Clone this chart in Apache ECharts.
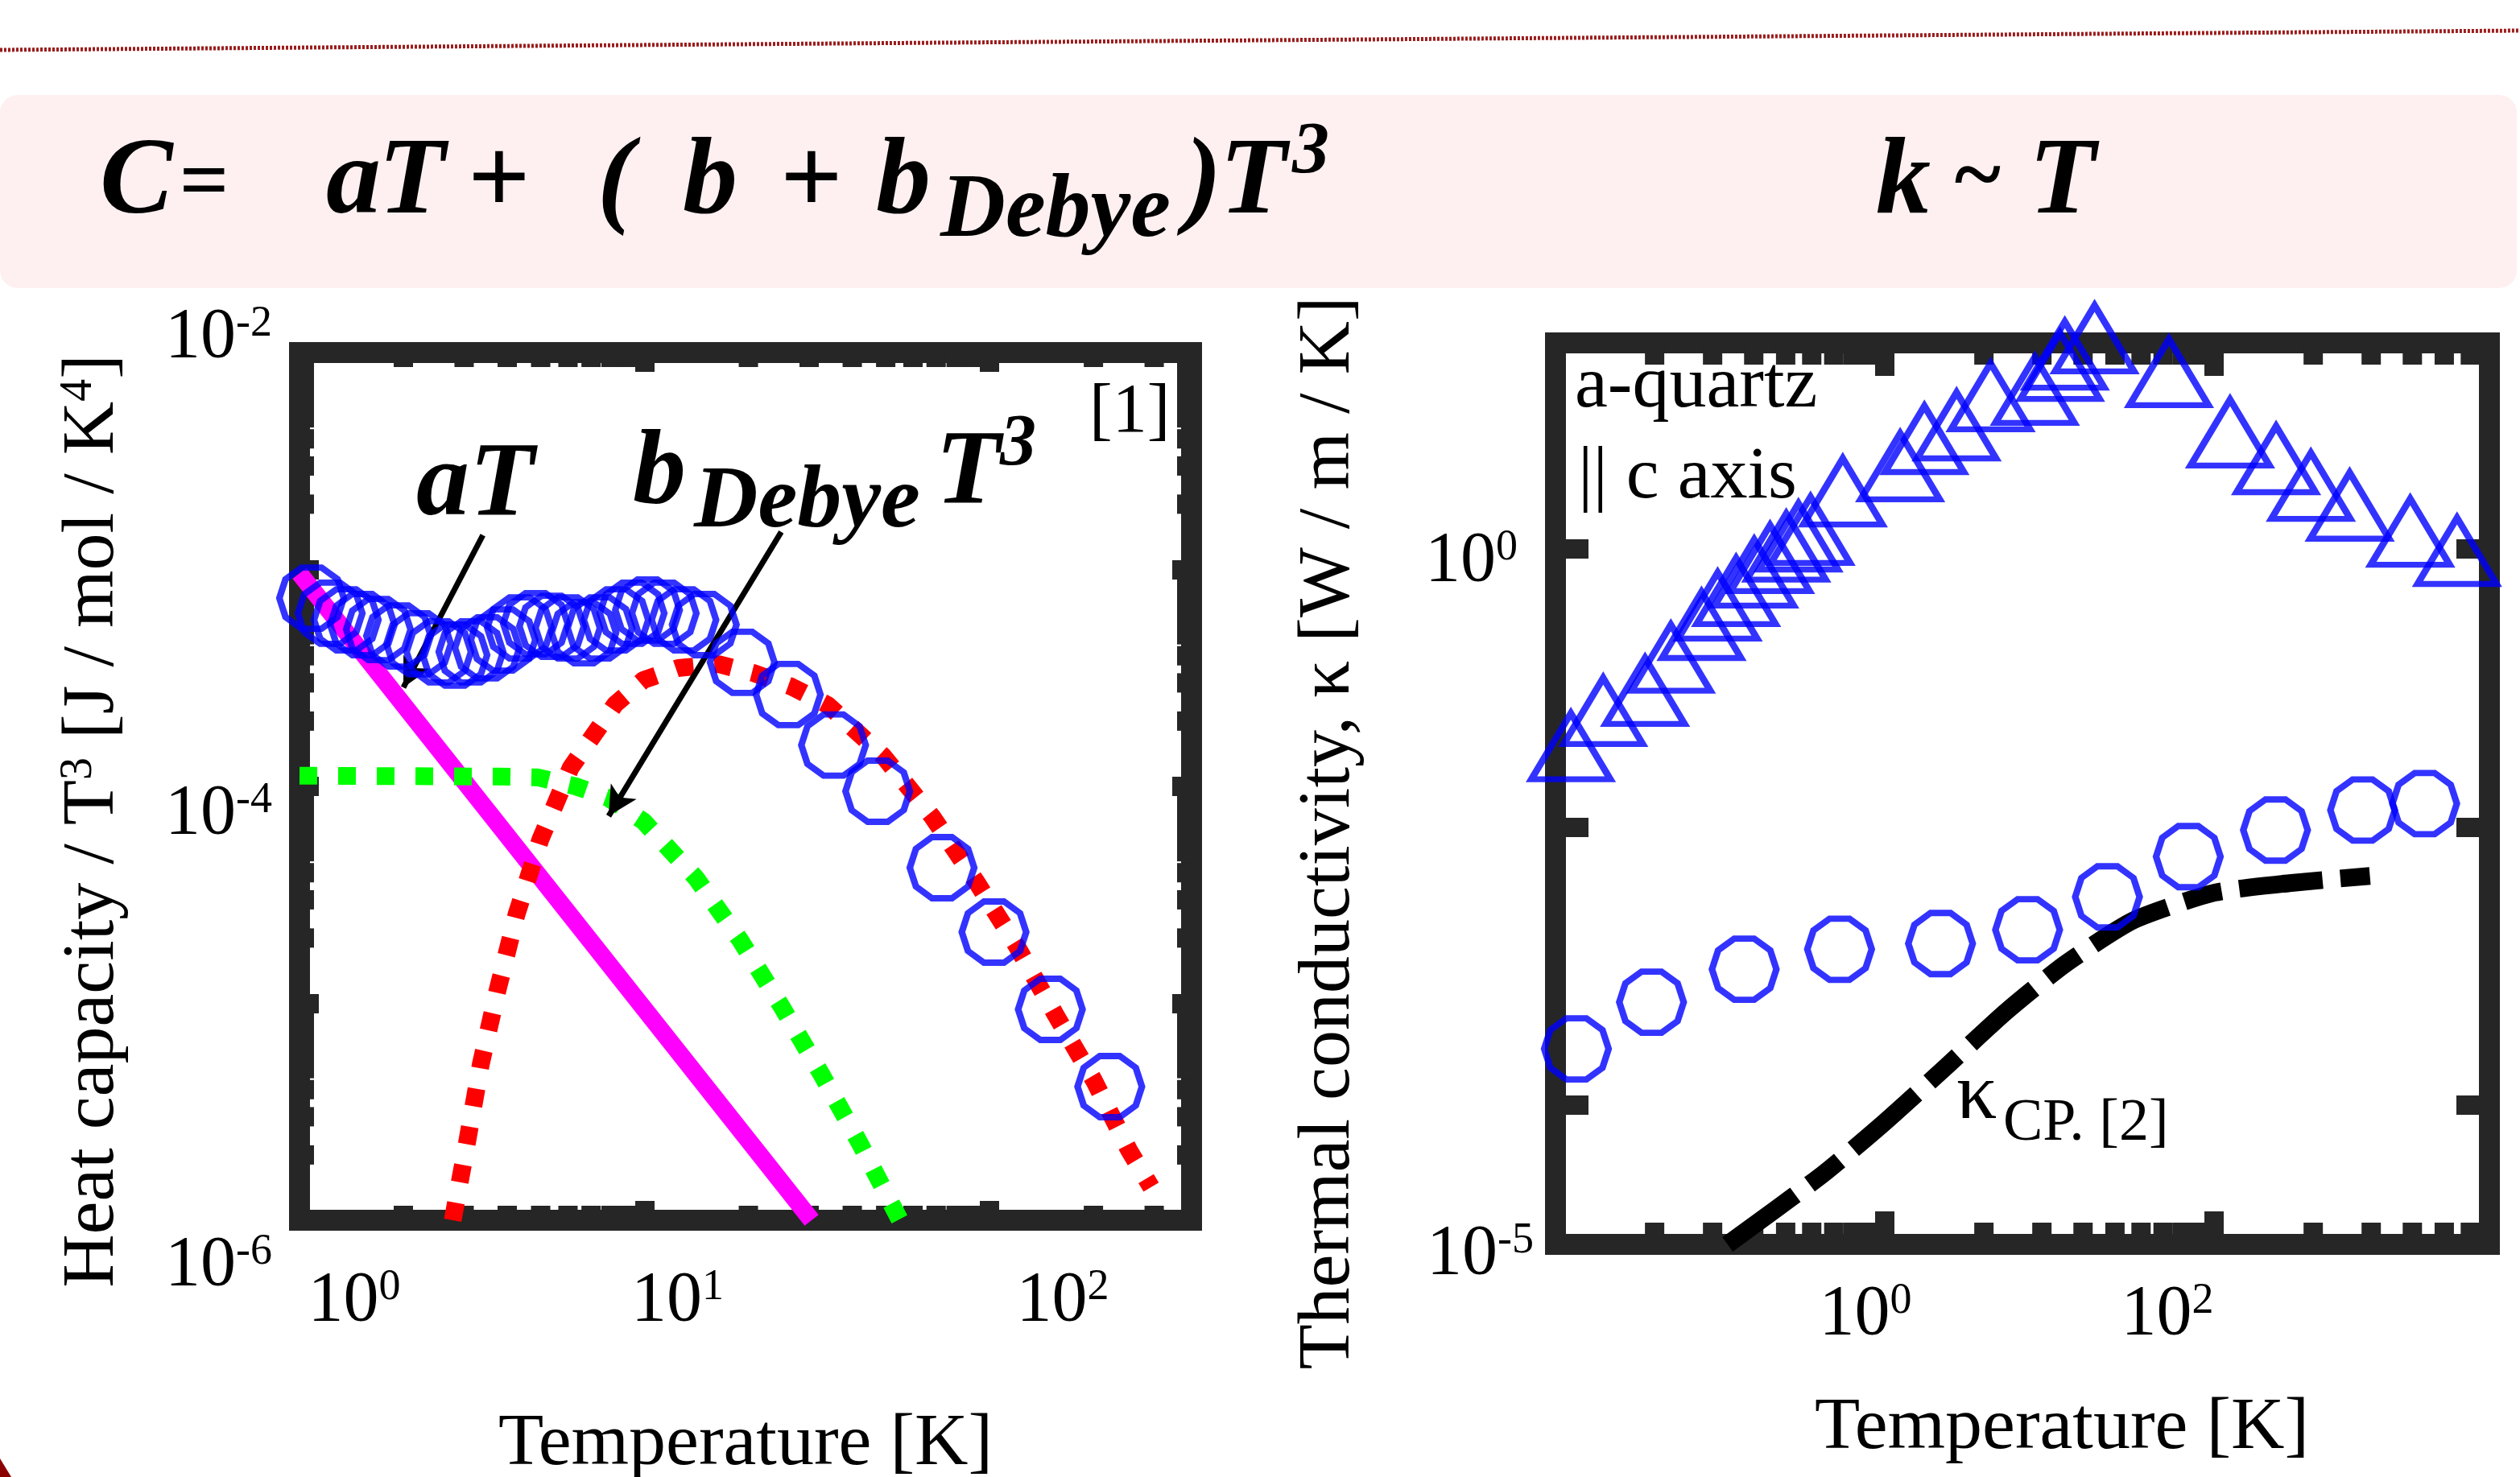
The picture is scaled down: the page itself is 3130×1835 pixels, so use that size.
<!DOCTYPE html>
<html>
<head>
<meta charset="utf-8">
<script src="https://cdn.jsdelivr.net/npm/echarts@6.0.0/dist/echarts.min.js"></script>
<style>
html,body{margin:0;padding:0;background:#fff;}
#chart{width:3130px;height:1835px;}
</style>
</head>
<body>
<div id="chart"></div>
<script>
// ================= DATA =================
// Left panel: heat capacity / T^3 of the glass (blue circles)
const heatT = [1.084, 1.227, 1.366, 1.521, 1.693, 1.937, 2.215, 2.533, 2.821, 3.14, 3.50, 3.89, 4.34, 4.83, 5.38, 5.99, 6.67, 7.42, 8.27, 9.20, 10.2, 11.4, 13.0, 14.9, 19.2, 26.1, 35.3, 47.4, 72.8, 103, 150, 223];
const heatC = [7.38e-4, 6.28e-4, 5.86e-4, 5.57e-4, 5.29e-4, 4.94e-4, 4.54e-4, 4.17e-4, 4.03e-4, 4.17e-4, 4.35e-4, 4.73e-4, 5.38e-4, 5.62e-4, 5.47e-4, 5.38e-4, 5.11e-4, 5.38e-4, 5.86e-4, 6.28e-4, 6.50e-4, 6.28e-4, 5.86e-4, 5.57e-4, 3.73e-4, 2.65e-4, 1.55e-4, 9.50e-5, 4.22e-5, 2.13e-5, 9.38e-6, 4.13e-6];
// Red dotted curve
const fitT = [2.78, 3.06, 3.35, 3.75, 4.25, 4.99, 6.11, 8.22, 9.92, 12.5, 16.4, 20.7, 26.7, 34.0, 49.2, 68.3, 91.8, 120, 155, 201, 253, 294];
const fitC = [1.0e-6, 2.29e-6, 5.20e-6, 1.15e-5, 2.55e-5, 5.69e-5, 1.22e-4, 2.39e-4, 3.09e-4, 3.51e-4, 3.66e-4, 3.33e-4, 2.88e-4, 2.37e-4, 1.38e-4, 7.23e-5, 3.61e-5, 1.83e-5, 8.91e-6, 4.39e-6, 2.12e-6, 1.42e-6];
// Green dotted curve (b_Debye T^3)
const debyeT = [1.0, 3.79, 4.91, 6.32, 7.83, 9.92, 14.1, 19.0, 25.0, 32.5, 41.9, 55.0];
const debyeC = [1.12e-4, 1.11e-4, 1.10e-4, 1.00e-4, 8.87e-5, 6.92e-5, 3.78e-5, 1.94e-5, 9.62e-6, 4.73e-6, 2.29e-6, 1.0e-6];
// Magenta line (aT)
const linearT = [1.0, 30.5];
const linearC = [9.6e-4, 1.0e-6];

// Right panel: thermal conductivity
const quartzT = [0.0124, 0.0195, 0.0350, 0.0502, 0.0771, 0.0966, 0.125, 0.161, 0.201, 0.252, 0.299, 0.354, 0.556, 1.24, 1.74, 2.73, 4.39, 8.16, 11.6, 12.4, 18.8, 53.2, 125, 238, 387, 666, 1553, 2988];
const quartzK = [0.0379, 0.0680, 0.0948, 0.164, 0.282, 0.389, 0.494, 0.671, 0.853, 1.03, 1.22, 1.36, 2.57, 3.89, 6.11, 7.66, 12.4, 13.8, 20.5, 24.7, 32.3, 18.5, 6.80, 4.38, 2.82, 2.03, 1.32, 0.96];
const glassT = [0.0134, 0.0383, 0.140, 0.531, 2.18, 7.37, 22.5, 69.7, 236, 798, 1900];
const glassK = [2.54e-4, 5.50e-4, 9.48e-4, 1.32e-3, 1.45e-3, 1.82e-3, 3.14e-3, 6.11e-3, 9.48e-3, 1.32e-2, 1.47e-2];
const cpT = [0.111, 0.419, 1.0, 2.39, 5.44, 12.4, 32.4, 100, 286, 884];
const cpK = [1.0e-5, 3.18e-5, 7.56e-5, 1.92e-4, 4.69e-4, 1.03e-3, 2.13e-3, 3.36e-3, 3.94e-3, 4.44e-3];

// Tick labels (powers of ten that carry a label)
const leftXLabels = [0, 1, 2];
const leftYLabels = [-2, -4, -6];
const rightXLabels = [0, 2];
const rightYLabels = [0, -5];

// Minor tick values
const leftXMinor = [2, 3, 4, 5, 6, 7, 8, 9, 20, 30, 40, 50, 60, 70, 80, 90, 200, 300];
const leftYMinor = [2e-6, 3e-6, 4e-6, 5e-6, 6e-6, 7e-6, 8e-6, 9e-6, 2e-5, 3e-5, 4e-5, 5e-5, 6e-5, 7e-5, 8e-5, 9e-5, 2e-4, 3e-4, 4e-4, 5e-4, 6e-4, 7e-4, 8e-4, 9e-4, 2e-3, 3e-3, 4e-3, 5e-3, 6e-3, 7e-3, 8e-3, 9e-3];
const rightXMinor = [0.04, 0.09, 0.16, 0.25, 0.36, 0.49, 0.64, 0.81, 4, 9, 16, 25, 36, 49, 64, 81, 400, 900, 1600, 2500, 3600];

// Annotation arrows (data coordinates: start, tip)
const arrowAT = [[3.40, 1.44e-3], [2.0, 2.86e-4]];
const arrowDebye = [[24.9, 1.49e-3], [7.87, 7.3e-5]];

// ================= STYLE / LAYOUT =================
const F = 'Liberation Serif';
const FRAME = '#262626';
const BLUE = '#0000FF';
const zip = (a, b) => a.map((v, i) => [v, b[i]]);
const decagon = 'path://M100,50L90.45,79.39L65.45,97.55L34.55,97.55L9.55,79.39L0,50L9.55,20.61L34.55,2.45L65.45,2.45L90.45,20.61Z';

// label offsets: dx shifts horizontally, dy vertically (spacer line), er extra right space
function buildRich(table, fs, sfs) {
  const rich = {};
  Object.keys(table).forEach(k => {
    const t = table[k];
    const dx = t.dx || 0, dy = t.dy || 0, er = t.er || 0;
    const key = k.replace('-', 'm');
    const pl = dx > 0 ? 2 * dx : 0, pr = (dx < 0 ? -2 * dx : 0) + er;
    rich['b' + key] = {fontFamily: F, fontSize: fs, lineHeight: fs, color: '#000', padding: [0, 0, 0, pl]};
    rich['s' + key] = {fontFamily: F, fontSize: sfs, lineHeight: sfs, color: '#000', verticalAlign: 'top', padding: [0, pr, 0, 0]};
    rich['g' + key] = {fontFamily: F, fontSize: 1, lineHeight: Math.max(1, 2 * Math.abs(dy)), color: 'rgba(0,0,0,0)'};
  });
  return rich;
}
function expFormatter(list, table) {
  return function (v) {
    const l = Math.log10(v), e = Math.round(l);
    if (Math.abs(l - e) > 0.01 || list.indexOf(e) < 0) return '';
    const key = String(e).replace('-', 'm');
    const dy = (table[String(e)] && table[String(e)].dy) || 0;
    const main = '{b' + key + '|10}{s' + key + '|' + e + '}';
    if (dy > 0) return '{g' + key + '| }\n' + main;
    if (dy < 0) return main + '\n{g' + key + '| }';
    return main;
  };
}
function tickSeries(xi, yi, vals, anchor, dir, len, w) {
  return {
    type: 'custom', xAxisIndex: xi, yAxisIndex: yi, z: 1, silent: true, clip: false,
    data: vals.map(v => dir === 'x' ? [v, anchor] : [anchor, v]),
    renderItem: function (params, api) {
      const cs = params.coordSys;
      const p = api.coord([api.value(0), api.value(1)]);
      if (dir === 'x') {
        return {type: 'group', children: [
          {type: 'rect', shape: {x: p[0] - w / 2, y: cs.y + cs.height - len, width: w, height: len}, style: {fill: FRAME}},
          {type: 'rect', shape: {x: p[0] - w / 2, y: cs.y, width: w, height: len}, style: {fill: FRAME}}
        ]};
      }
      return {type: 'group', children: [
        {type: 'rect', shape: {x: cs.x, y: p[1] - w / 2, width: len, height: w}, style: {fill: FRAME}},
        {type: 'rect', shape: {x: cs.x + cs.width - len, y: p[1] - w / 2, width: len, height: w}, style: {fill: FRAME}}
      ]};
    }
  };
}
function logAxis(o) {
  return Object.assign({
    type: 'log', splitLine: {show: false}, axisLine: {show: false},
    minorTick: {show: false}, minorSplitLine: {show: false}, nameMoveOverlap: false, z: 1
  }, o);
}
const tickL = {inside: true, length: 24, lineStyle: {color: FRAME, width: 24}};
const tickR = {inside: true, length: 41, lineStyle: {color: FRAME, width: 24}};
const nameStyle = (pad) => ({fontFamily: F, fontSize: 92, lineHeight: 92, color: '#000', padding: pad,
  rich: {n: {fontFamily: F, fontSize: 92, lineHeight: 92, color: '#000'}, p: {fontFamily: F, fontSize: 56, lineHeight: 56, color: '#000', verticalAlign: 'top'}}});

function txt(text, x, base, size, opt) {
  opt = opt || {};
  const font = (opt.italic ? 'italic ' : '') + (opt.bold ? 'bold ' : '') + size + 'px "' + F + '"';
  return {type: 'text', x: x, y: base - 0.34 * size, z: 100, silent: true,
    style: {text: text, fill: '#000', font: font, align: 'left', verticalAlign: 'middle'}};
}
const BI = {bold: true, italic: true};

const lxShift = {'0': {dx: 68}, '1': {dx: 41}, '2': {dx: 91}};
const lyShift = {'-2': {dy: -18}, '-4': {dy: 35}, '-6': {dy: 57}};
const rxShift = {'0': {dx: -24}, '2': {dx: -58}};
const ryShift = {'0': {dy: 16, er: 20}, '-5': {dy: 13}};

const chart = echarts.init(document.getElementById('chart'), null, {renderer: 'canvas'});
chart.setOption({
  animation: false,
  backgroundColor: '#ffffff',
  grid: [
    {left: 372, top: 438, width: 1108, height: 1078, show: true, borderWidth: 26, borderColor: FRAME, backgroundColor: 'transparent', outerBoundsMode: 'none', containLabel: false},
    {left: 1932, top: 426, width: 1160, height: 1120, show: true, borderWidth: 26, borderColor: FRAME, backgroundColor: 'transparent', outerBoundsMode: 'none', containLabel: false}
  ],
  xAxis: [
    logAxis({gridIndex: 0, position: 'bottom', min: 1, max: 385, axisTick: tickL,
      axisLabel: {margin: 57, showMinLabel: true, showMaxLabel: true, formatter: expFormatter(leftXLabels, lxShift),
        rich: buildRich(lxShift, 88, 54)},
      name: '{n|Temperature [K]}', nameLocation: 'middle', nameGap: 233, nameTextStyle: nameStyle([0, 0, 0, 0])}),
    logAxis({gridIndex: 0, position: 'top', min: 1, max: 385, axisTick: tickL, axisLabel: {show: false}}),
    logAxis({gridIndex: 1, position: 'bottom', logBase: 100, min: 0.01, max: 4700, axisTick: tickR,
      axisLabel: {margin: 44, showMinLabel: true, showMaxLabel: true, formatter: expFormatter(rightXLabels, rxShift),
        rich: buildRich(rxShift, 88, 54)},
      name: '{n|Temperature [K]}', nameLocation: 'middle', nameGap: 183, nameTextStyle: nameStyle([0, 0, 0, 98])}),
    logAxis({gridIndex: 1, position: 'top', logBase: 100, min: 0.01, max: 4700, axisTick: tickR, axisLabel: {show: false}})
  ],
  yAxis: [
    logAxis({gridIndex: 0, position: 'left', min: 1e-6, max: 1e-2, axisTick: tickL,
      axisLabel: {margin: 34, showMinLabel: true, showMaxLabel: true, formatter: expFormatter(leftYLabels, lyShift),
        rich: buildRich(lyShift, 88, 54)},
      name: '{n|Heat capacity / T}{p|3}{n| [J / mol / K}{p|4}{n|]}', nameLocation: 'middle', nameRotate: 90, nameGap: 210,
      nameTextStyle: nameStyle([0, 86, 0, 0])}),
    logAxis({gridIndex: 0, position: 'right', min: 1e-6, max: 1e-2, axisTick: tickL, axisLabel: {show: false}}),
    logAxis({gridIndex: 1, position: 'left', logBase: 100, min: 1e-5, max: 30, axisTick: tickR,
      axisLabel: {margin: 27, showMinLabel: true, showMaxLabel: true, formatter: expFormatter(rightYLabels, ryShift),
        rich: buildRich(ryShift, 88, 54)},
      name: '{n|Thermal conductivity, κ [W / m / K]}', nameLocation: 'middle', nameRotate: 90, nameGap: 235,
      nameTextStyle: nameStyle([0, 98, 0, 0])}),
    logAxis({gridIndex: 1, position: 'right', logBase: 100, min: 1e-5, max: 30, axisTick: tickR, axisLabel: {show: false}})
  ],
  series: [
    tickSeries(0, 0, leftXMinor, 1e-4, 'x', 18, 24),
    tickSeries(0, 0, leftYMinor, 10, 'y', 18, 24),
    tickSeries(2, 2, rightXMinor, 1e-3, 'x', 27, 24),
    {type: 'line', xAxisIndex: 0, yAxisIndex: 0, z: 2, data: zip(linearT, linearC), symbol: 'none', silent: true,
      lineStyle: {color: '#FF00FF', width: 22, cap: 'butt'}},
    {type: 'line', xAxisIndex: 0, yAxisIndex: 0, z: 3, data: zip(debyeT, debyeC), symbol: 'none', silent: true,
      lineStyle: {color: '#00FF00', width: 22, type: [22, 26], cap: 'butt'}},
    {type: 'line', xAxisIndex: 0, yAxisIndex: 0, z: 4, data: zip(fitT, fitC), symbol: 'none', silent: true,
      lineStyle: {color: '#FF0000', width: 22, type: [22, 26], cap: 'butt'}},
    {type: 'scatter', xAxisIndex: 0, yAxisIndex: 0, z: 5, clip: false, data: zip(heatT, heatC), symbol: decagon, symbolSize: [80, 76], silent: true,
      itemStyle: {color: 'rgba(0,0,0,0)', borderColor: BLUE, borderWidth: 8}},
    {type: 'line', xAxisIndex: 0, yAxisIndex: 0, z: 6, data: [], silent: true,
      markLine: {silent: true, animation: false, symbol: ['none', 'arrow'], symbolSize: [28, 36], label: {show: false},
        lineStyle: {color: '#000', width: 7, type: 'solid'},
        data: [
          [{coord: arrowAT[0]}, {coord: arrowAT[1]}],
          [{coord: arrowDebye[0]}, {coord: arrowDebye[1]}]
        ]}},
    {type: 'line', xAxisIndex: 2, yAxisIndex: 2, z: 3, data: zip(cpT, cpK), symbol: 'none', silent: true, smooth: 0.2,
      lineStyle: {color: '#000', width: 22, type: [104, 22, 48, 22], cap: 'butt'}},
    {type: 'scatter', xAxisIndex: 2, yAxisIndex: 2, z: 5, clip: false, data: zip(quartzT, quartzK), symbol: 'triangle', symbolSize: [98, 82], silent: true,
      itemStyle: {color: 'rgba(0,0,0,0)', borderColor: BLUE, borderWidth: 8}},
    {type: 'scatter', xAxisIndex: 2, yAxisIndex: 2, z: 5, clip: false, data: zip(glassT, glassK), symbol: decagon, symbolSize: [80, 76], silent: true,
      itemStyle: {color: 'rgba(0,0,0,0)', borderColor: BLUE, borderWidth: 8}}
  ],
  graphic: [
    {type: 'rect', z: -10, silent: true, shape: {x: 0, y: 118, width: 3126, height: 240, r: 22}, style: {fill: '#FEF0F0'}},
    {type: 'line', z: -10, silent: true, shape: {x1: 0, y1: 62, x2: 3130, y2: 38}, style: {stroke: '#9B1C1C', lineWidth: 5, lineDash: [3, 2]}},
    {type: 'polygon', z: -10, silent: true, shape: {points: [[0, 1812], [14, 1835], [0, 1835]]}, style: {fill: '#8B0000'}},
    // formula band
    txt('C', 124, 275, 136, BI),
    txt('=', 222, 268, 108, BI),
    txt('a', 405, 275, 136, BI),
    txt('T', 470, 275, 136, BI),
    txt('+', 580, 275, 136, BI),
    txt('(', 742, 275, 136, BI),
    txt('b', 848, 275, 136, BI),
    txt('+', 968, 275, 136, BI),
    txt('b', 1088, 275, 136, BI),
    txt('Debye', 1168, 302, 112, BI),
    txt(')', 1472, 275, 136, BI),
    txt('T', 1515, 275, 136, BI),
    txt('3', 1605, 222, 92, BI),
    txt('k', 2330, 275, 136, BI),
    txt('~', 2424, 262, 110, BI),
    txt('T', 2520, 275, 136, BI),
    // left panel annotations
    txt('aT', 517, 650, 132, BI),
    txt('b', 786, 635, 132, BI),
    txt('Debye', 862, 663, 110, BI),
    txt('T', 1162, 635, 132, BI),
    txt('3', 1242, 584, 90, BI),
    txt('[1]', 1353, 543, 86),
    // right panel annotations
    txt('a-quartz', 1956, 512, 92),
    txt('|| c axis', 1960, 625, 92),
    txt('κ', 2430, 1397, 100),
    txt('CP. [2]', 2488, 1422, 74)
  ]
});
</script>
</body>
</html>
